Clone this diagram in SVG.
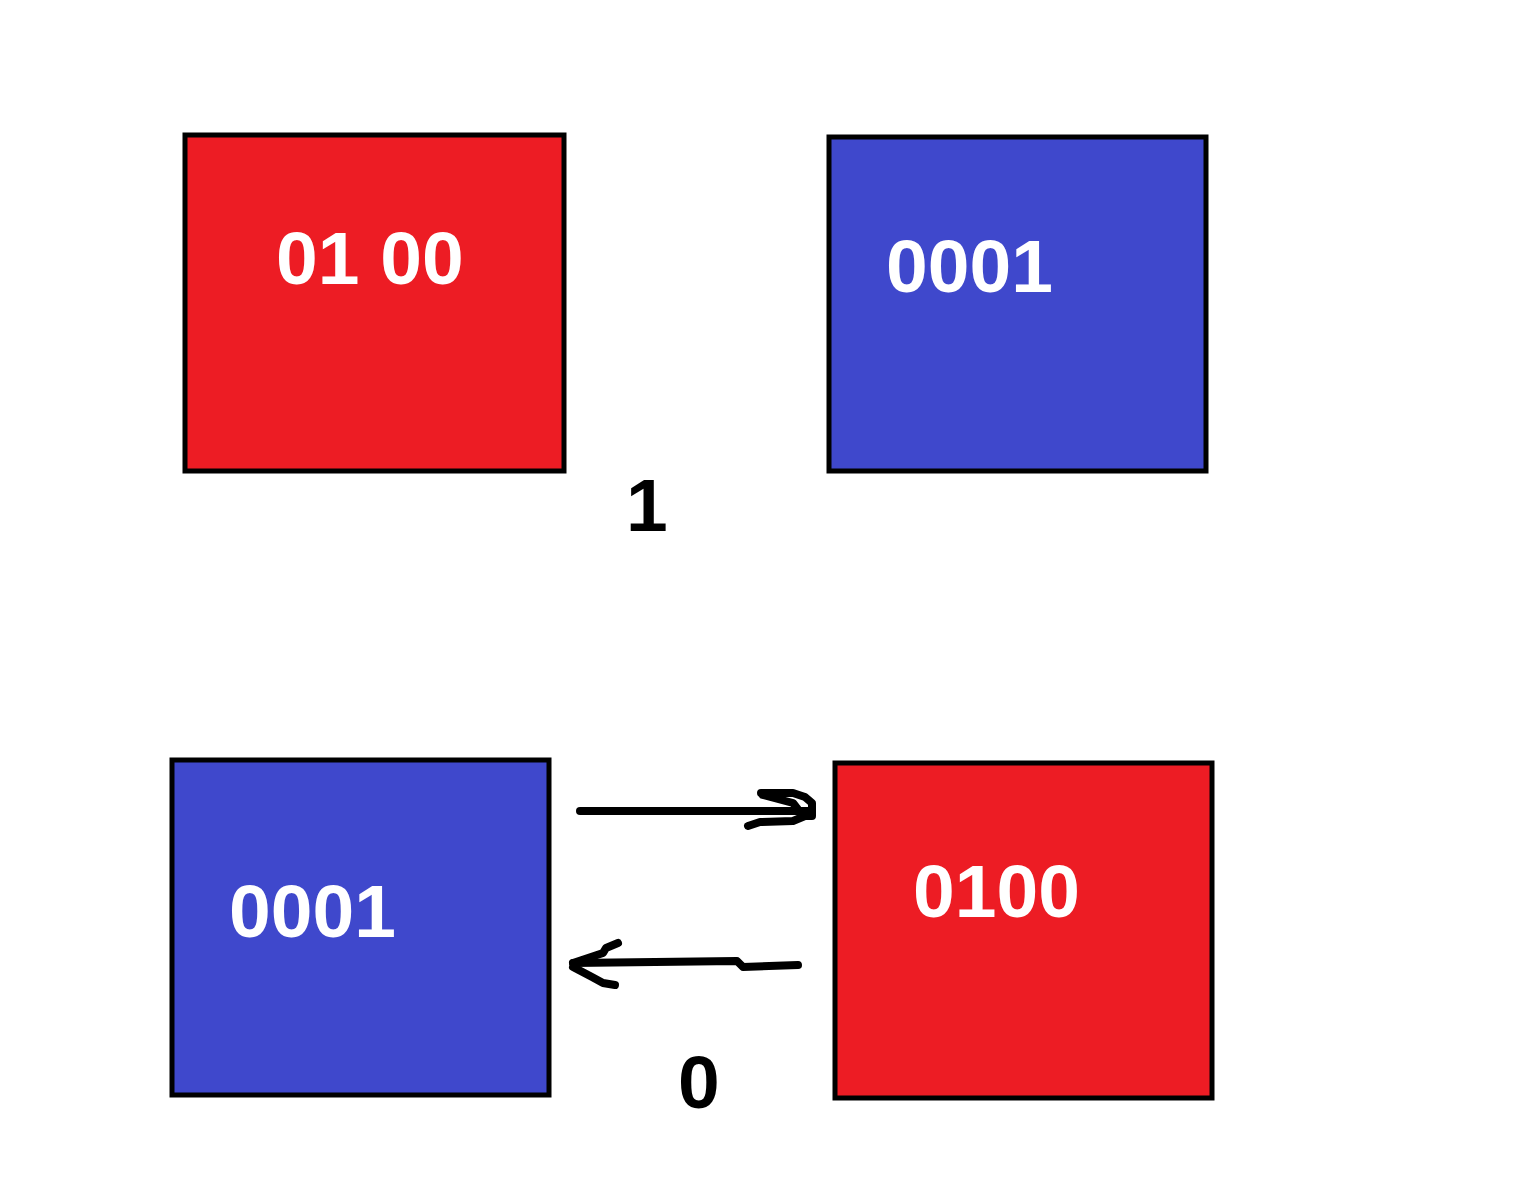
<svg xmlns="http://www.w3.org/2000/svg" width="1540" height="1194" viewBox="0 0 1540 1194">
<style>
.box{stroke:#000;stroke-width:5}
.red{fill:#ed1c24}
.blue{fill:#3f48cc}
text{font-family:"Liberation Sans",Arimo,Roboto,sans-serif;font-weight:700;font-size:75px}
.lbl{fill:#fff}
.num{fill:#000}
.ink{fill:none;stroke:#000;stroke-width:8;stroke-linecap:round;stroke-linejoin:round}
</style>
<rect width="1540" height="1194" fill="#fff"/>
<g id="node-red-top">
<rect class="box red" x="185" y="135" width="379" height="336"/>
<text class="lbl" x="276" y="284">01 00</text>
</g>
<g id="node-blue-top">
<rect class="box blue" x="829" y="137" width="377" height="334"/>
<text class="lbl" x="886" y="292">0001</text>
</g>
<g id="node-blue-bottom">
<rect class="box blue" x="172" y="760" width="377" height="335"/>
<text class="lbl" x="229" y="937">0001</text>
</g>
<g id="node-red-bottom">
<rect class="box red" x="835" y="763" width="377" height="335"/>
<text class="lbl" x="913" y="917">0100</text>
</g>
<g id="labels">
<text class="num" x="626" y="531">1</text>
<text class="num" x="678" y="1108">0</text>
</g>
<g id="connectors">
<path class="ink" d="M580,811 L808,811"/>
<path class="ink" d="M761,793 L793,793 L805,797 L812,803 L812,816 L805,816 L793,821 L760,822 L748,826"/>
<path class="ink" d="M763,795 L793,803 L800,812"/>
<path class="ink" d="M798,965 L743,967 L737,961 L573,963"/>
<path class="ink" d="M573,963 L603,953 L606,948 L618,943"/>
<path class="ink" d="M573,967 L592,977 L603,983 L615,985"/>
</g>
</svg>
